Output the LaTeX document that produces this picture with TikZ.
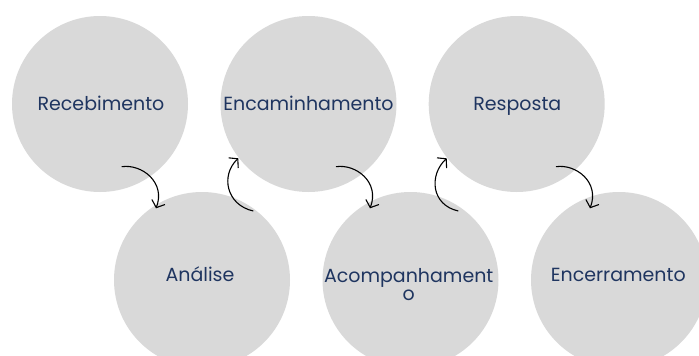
\documentclass[tikz,border=0pt]{standalone}
\usepackage{fontspec}
\setmainfont{Poppins}
\usetikzlibrary{arrows.meta,calc}
\definecolor{disc}{HTML}{D9D9D9}
\definecolor{ink}{HTML}{1F3560}
\begin{document}
\begin{tikzpicture}[x=1pt,y=-1pt,
  stage/.style={circle,fill=disc,minimum size=176pt,inner sep=0pt},
  lbl/.style={text=ink,font=\fontsize{19}{18.4}\selectfont,inner sep=0pt,anchor=base,align=center},
  flow/.style={draw=black,line width=1.1pt,-{Straight Barb[length=6pt,width=14pt]}}]
\useasboundingbox (0,0) rectangle (699,356);
\clip (0,0) rectangle (699,356);
% stages, top row
\node[stage] (rec)  at (100,104)   {};
\node[stage] (enc)  at (308.5,104) {};
\node[stage] (resp) at (516.7,104) {};
% stages, bottom row
\node[stage] (ana)  at (202,280)   {};
\node[stage] (aco)  at (410.5,280) {};
\node[stage] (fim)  at (619,280)   {};
% stage names (base anchor sits on the last line)
\node[lbl] (recT)  at ($(rec)+(1,6.3)$)    {Recebimento};
\node[lbl] (encT)  at ($(enc)+(0,6.3)$)    {Encaminhamento};
\node[lbl] (respT) at ($(resp)+(0.6,6.3)$) {Resposta};
\node[lbl] (anaT)  at ($(ana)+(-2,1.5)$)   {Análise};
\node[lbl] (acoT)  at ($(aco)+(-1.8,20.5)$) {Acompanhament\\o};
\node[lbl] (fimT)  at ($(fim)+(-0.7,1.5)$) {Encerramento};
% flow arrows
\draw[flow] ($(rec)+(21.7,62.7)$) .. controls +(20,-3) and +(10,-26) .. ($(ana)+(-46,-71.7)$);
\draw[flow] ($(ana)+(51.3,-69)$) .. controls +(-27,-6) and +(-18,17) .. ($(enc)+(-70.2,54.3)$);
\draw[flow] ($(enc)+(27.5,62.7)$) .. controls +(20,-3) and +(10,-26) .. ($(aco)+(-40.5,-71.7)$);
\draw[flow] ($(aco)+(47.8,-69)$) .. controls +(-27,-6) and +(-18,17) .. ($(resp)+(-70,54.3)$);
\draw[flow] ($(resp)+(39.3,62.7)$) .. controls +(20,-3) and +(10,-26) .. ($(fim)+(-29,-71.7)$);
\end{tikzpicture}
\end{document}
